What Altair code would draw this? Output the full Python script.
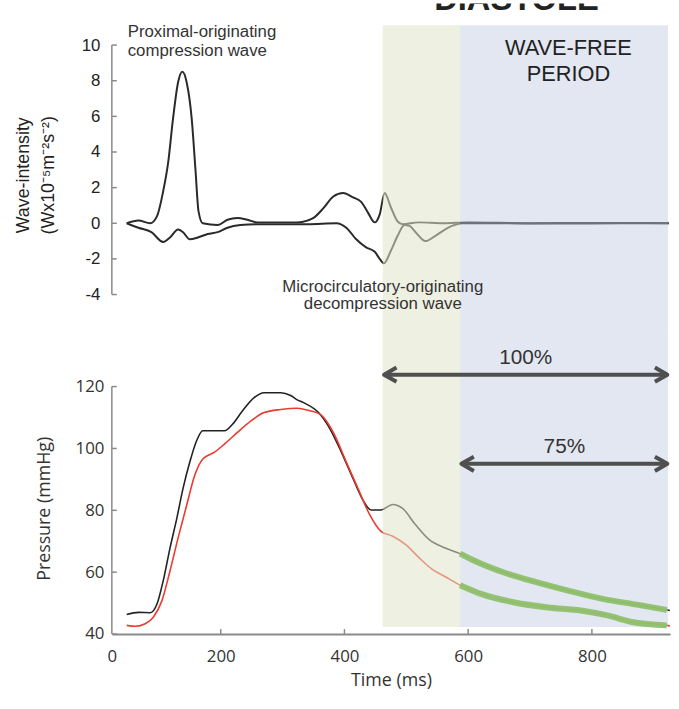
import altair as alt
import pandas as pd

# ---------------- data ----------------
# wave intensity, forward (compression) wave
fw_t = [48, 67, 86, 97, 107, 115, 123, 131, 138, 145, 153, 159, 164, 171, 195, 211, 227, 243, 259, 300,
        323, 340, 350, 366, 382, 398, 414, 427, 438, 449, 457, 465, 475, 486, 494, 520, 560, 600, 700, 800, 924]
fw_w = [0, 0.15, 0, 0.4, 1.8, 3.4, 5.9, 7.9, 8.5, 7.9, 5.9, 3.1, 0.7, 0, -0.1, 0.2, 0.3, 0.2, 0.05, 0.05,
        0.05, 0.15, 0.3, 0.85, 1.5, 1.7, 1.45, 1.2, 0.6, 0.05, 0.5, 1.7, 0.9, 0.1, -0.05, 0.05, 0.0, 0.05, 0.0, 0.02, 0.0]
# wave intensity, backward (decompression) wave
bw_t = [48, 67, 88, 107, 118, 131, 139, 150, 163, 179, 195, 211, 232, 259, 300, 340, 387, 403, 419, 435,
        449, 457, 464, 475, 486, 497, 505, 515, 531, 545, 558, 574, 590, 650, 750, 850, 924]
bw_w = [0, -0.25, -0.5, -1.05, -0.8, -0.35, -0.5, -0.9, -0.8, -0.6, -0.5, -0.25, -0.1, -0.05, -0.05, -0.05, 0, -0.25, -0.9, -1.35,
        -1.6, -2.0, -2.25, -1.55, -0.7, -0.1, -0.15, -0.5, -1.0, -0.75, -0.45, -0.15, 0, 0, -0.02, 0, 0]
# pressure, black trace
pa_t = [48, 67, 86, 97, 107, 118, 129, 139, 150, 161, 171, 190, 206, 219, 235, 254, 270, 297, 313, 323,
        334, 358, 377, 395, 414, 430, 443, 459, 478, 494, 515, 537, 563, 587, 611, 659, 713, 766, 819, 873, 921, 926]
pa_p = [46.3, 47.0, 46.9, 49.7, 57.2, 67.8, 77.4, 87.0, 95.6, 102.5, 105.7, 105.7, 105.7, 107.8, 112.1, 116.4, 118.0, 118.0, 117.1, 115.8,
        114.8, 111.6, 106.2, 98.8, 90.2, 83.3, 80.1, 80.1, 81.9, 80.6, 75.3, 70.5, 67.8, 66.0, 63.6, 59.8, 56.6, 53.8, 51.3, 49.5, 47.8, 47.6]
# pressure, red trace
pd_t = [48, 62, 78, 91, 105, 118, 131, 145, 158, 171, 190, 206, 227, 249, 270, 297, 323, 339, 361, 382,
        403, 422, 441, 459, 478, 499, 521, 542, 563, 587, 622, 675, 729, 782, 825, 867, 921, 926]
pd_p = [42.8, 42.5, 43.3, 45.4, 50.8, 60.4, 71.0, 81.7, 91.3, 96.6, 98.8, 101.4, 105.2, 108.9, 111.6, 112.6, 113.0, 112.4, 111.0, 105.2,
        95.6, 87.0, 78.5, 73.2, 71.6, 68.9, 64.6, 60.9, 58.5, 55.8, 52.9, 50.2, 48.6, 47.6, 46.0, 43.8, 42.8, 42.6]

# shaded periods (ms)
region_names = ["early diastole", "wave-free"]
region_start = [462, 587]
region_end = [587, 923]

# arrows
arrow_labels = ["100%", "75%"]
arrow_start = [464, 589]
arrow_stop = [922, 922]
arrow_level = [123.84, 95.04]

top_ticks = [-4, -2, 0, 2, 4, 6, 8, 10]
bot_ticks = [40, 60, 80, 100, 120]
time_ticks = [24, 200, 400, 600, 800]

# ---------------- styling ----------------
INK = "#2a2a2a"
AXIS = "#8a8a8a"
SHADE_COLORS = ["#e0e4ca", "#bfcae0"]
SHADE_ALPHA = [0.55, 0.45]
GREEN = "#8fc06c"
ARROW = "#4f4f4f"
W = 564
TOP_H = 330
BOT_H = 307

xs = alt.Scale(domain=[24, 926.4], nice=False, zero=False)
ys_top = alt.Scale(domain=[-6.0, 12.333], nice=False, zero=False)
ys_bot = alt.Scale(domain=[40, 138.24], nice=False, zero=False)

wave = pd.concat([
    pd.DataFrame({"t": fw_t, "w": fw_w, "s": "forward"}),
    pd.DataFrame({"t": bw_t, "w": bw_w, "s": "backward"}),
])
press = pd.concat([
    pd.DataFrame({"t": pa_t, "p": pa_p, "s": "black"}),
    pd.DataFrame({"t": pd_t, "p": pd_p, "s": "red"}),
])
regions = pd.DataFrame({"name": region_names, "start": region_start, "end": region_end})
arrows = pd.DataFrame({"label": arrow_labels, "a0": arrow_start, "a1": arrow_stop, "lvl": arrow_level})


def note(text, x, y, **kw):
    return alt.Chart(pd.DataFrame({"label": [text]})).mark_text(**kw).encode(
        x=alt.datum(x), y=alt.datum(y), text="label:N")


def shade(y_top, y_bottom):
    layers = []
    for name, col, a in zip(region_names, SHADE_COLORS, SHADE_ALPHA):
        layers.append(
            alt.Chart(regions).transform_filter(alt.datum.name == name).mark_rect(color=col, opacity=a).encode(
                x="start:Q", x2="end:Q", y=alt.datum(y_top), y2=alt.datum(y_bottom))
        )
    return layers


def axis_line(lo, hi):
    return alt.Chart(pd.DataFrame({"lo": [lo], "hi": [hi]})).mark_rule(color=AXIS, strokeWidth=1.5).encode(
        x=alt.datum(24), y="lo:Q", y2="hi:Q")


def y_inward_ticks(vals):
    return alt.Chart(pd.DataFrame({"v": vals})).mark_rule(color=AXIS, strokeWidth=1.5).encode(
        x=alt.datum(24), x2=alt.datum(32), y="v:Q")


# ---------------- top panel: wave intensity ----------------
top_lines = alt.Chart(wave).mark_line(color=INK, strokeWidth=2, interpolate="monotone").encode(
    x=alt.X("t:Q", scale=xs, axis=None),
    y=alt.Y("w:Q", scale=ys_top, axis=alt.Axis(
        values=top_ticks, domain=False, ticks=False, grid=False,
        labelExpr="datum.value < 0 ? '-' + abs(datum.value) : datum.label",
        labelFont="Liberation Sans", labelFontSize=17, labelColor="#222", labelPadding=12,
        title=["Wave-intensity", "(Wx10⁻⁵m⁻²s⁻²)"], titleFont="Liberation Sans", titleFontSize=18,
        titleFontWeight="normal", titleColor="#222", titleLineHeight=25, titlePadding=24, titleY=173)),
    detail="s:N",
)

top = alt.layer(
    top_lines,
    *shade(11.11, -6.0),
    axis_line(min(top_ticks), max(top_ticks)),
    y_inward_ticks(top_ticks),
    note("Proximal-originating\ncompression wave", 49.6, 10.44, align="left", baseline="alphabetic",
         lineBreak="\n", lineHeight=19, font="Liberation Sans", fontSize=17, color="#333"),
    note("Microcirculatory-originating\ndecompression wave", 462, -3.83, align="center", baseline="alphabetic",
         lineBreak="\n", lineHeight=18, font="Liberation Sans", fontSize=17, color="#333"),
    note("WAVE-FREE\nPERIOD", 762, 9.45, align="center", baseline="alphabetic",
         lineBreak="\n", lineHeight=26, font="Liberation Sans", fontSize=22, color="#222"),
    note("DIASTOLE", 678, 11.95, align="center", baseline="alphabetic", font="Liberation Sans",
         fontSize=33, fontWeight="bold", color="#222", clip=True),
).properties(width=W, height=TOP_H)

# ---------------- bottom panel: pressure ----------------
bot_lines = alt.Chart(press).mark_line(strokeWidth=1.6, interpolate="monotone").encode(
    x=alt.X("t:Q", scale=xs, axis=alt.Axis(
        values=time_ticks, labelExpr="datum.value < 100 ? '0' : datum.label", labelFlush=False,
        domainColor=AXIS, domainWidth=2, ticks=False, grid=False,
        labelFont="Open Sans", labelFontSize=17, labelColor="#333", labelPadding=15,
        title="Time (ms)", titleFont="Open Sans", titleFontSize=18, titleFontWeight="normal",
        titleColor="#333", titlePadding=7)),
    y=alt.Y("p:Q", scale=ys_bot, axis=alt.Axis(
        values=bot_ticks, domain=False, ticks=False, grid=False,
        labelFont="Open Sans", labelFontSize=17, labelColor="#333", labelPadding=8,
        title="Pressure (mmHg)", titleFont="Open Sans", titleFontSize=18, titleFontWeight="normal",
        titleColor="#333", titlePadding=22, titleY=180)),
    color=alt.Color("s:N", scale=alt.Scale(domain=["black", "red"], range=["#222222", "#ec3a2e"]), legend=None),
)

green = alt.Chart(press).transform_filter("datum.t >= 587 && datum.t <= 921").mark_line(
    color=GREEN, strokeWidth=6, opacity=0.95, interpolate="monotone").encode(
    x="t:Q", y="p:Q", detail="s:N")

x_inward = alt.Chart(pd.DataFrame({"v": time_ticks[1:]})).mark_rule(color=AXIS, strokeWidth=1.5).encode(
    x="v:Q", y=alt.datum(40), y2=alt.datum(41.6))

arrow_base = alt.Chart(arrows)
arrow_lines = arrow_base.mark_rule(color=ARROW, strokeWidth=4).encode(x="a0:Q", x2="a1:Q", y="lvl:Q")
left_heads = arrow_base.mark_point(shape="M1.4,-0.8L0,0L1.4,0.8", filled=False, size=324, strokeWidth=4,
                                   strokeJoin="round", color=ARROW, opacity=1).encode(x="a0:Q", y="lvl:Q")
right_heads = arrow_base.mark_point(shape="M-1.4,-0.8L0,0L-1.4,0.8", filled=False, size=324, strokeWidth=4,
                                    strokeJoin="round", color=ARROW, opacity=1).encode(x="a1:Q", y="lvl:Q")
arrow_text = arrow_base.transform_calculate(mid="(datum.a0 + datum.a1) / 2").mark_text(
    baseline="alphabetic", align="center", dy=-11, font="Liberation Sans", fontSize=21, color="#333").encode(
    x="mid:Q", y="lvl:Q", text="label:N")

bottom = alt.layer(
    bot_lines,
    *shade(138.24, 42.24),
    green,
    axis_line(min(bot_ticks), max(bot_ticks)),
    y_inward_ticks(bot_ticks),
    x_inward,
    arrow_lines, left_heads, right_heads, arrow_text,
).properties(width=W, height=BOT_H)

chart = alt.vconcat(top, bottom, spacing=0).resolve_scale(x="independent", y="independent").properties(
    padding={"left": 15, "top": 0, "right": 0, "bottom": 0}, background="white"
).configure_view(stroke="transparent", strokeWidth=0)

chart.save("out.html", embed_options={"renderer": "svg", "actions": False})
